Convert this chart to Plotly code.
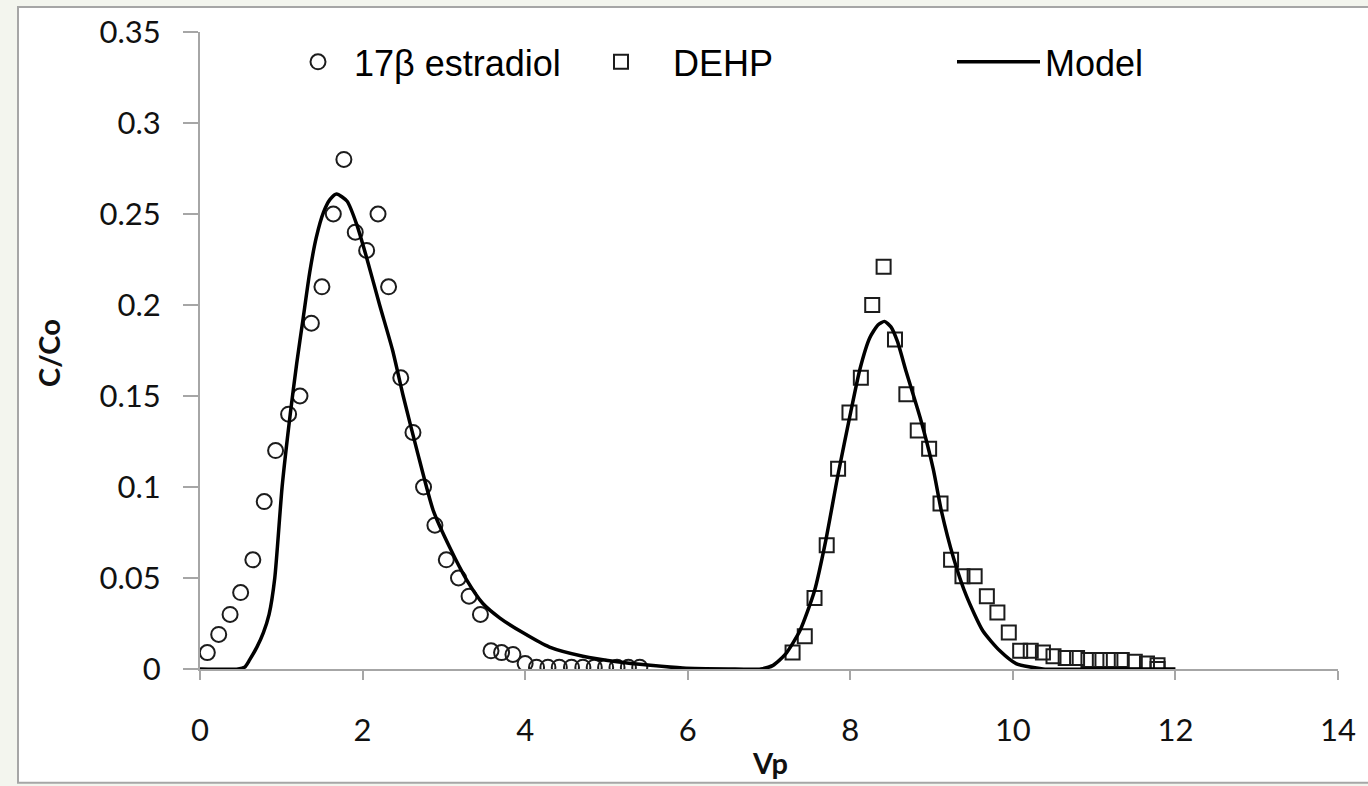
import plotly.graph_objects as go

# ---- data ----
estradiol_x = [0.09, 0.23, 0.37, 0.50, 0.65, 0.79, 0.93, 1.09, 1.23, 1.37, 1.50, 1.64, 1.77,
               1.91, 2.05, 2.19, 2.32, 2.47, 2.62, 2.75, 2.89, 3.03, 3.18, 3.31, 3.45, 3.58,
               3.71, 3.85, 4.00, 4.14, 4.28, 4.42, 4.57, 4.71, 4.85, 4.99, 5.13, 5.27, 5.41]
estradiol_y = [0.009, 0.019, 0.030, 0.042, 0.060, 0.092, 0.120, 0.140, 0.150, 0.190, 0.210,
               0.250, 0.280, 0.240, 0.230, 0.250, 0.210, 0.160, 0.130, 0.100, 0.079, 0.060,
               0.050, 0.040, 0.030, 0.010, 0.009, 0.008, 0.003, 0.001, 0.001, 0.001, 0.001,
               0.001, 0.001, 0.001, 0.001, 0.001, 0.001]

dehp_x = [7.29, 7.44, 7.56, 7.71, 7.85, 7.99, 8.13, 8.27, 8.41, 8.55, 8.69, 8.83, 8.97, 9.11,
          9.24, 9.38, 9.53, 9.68, 9.81, 9.95, 10.09, 10.22, 10.37, 10.50, 10.65, 10.79, 10.93,
          11.07, 11.20, 11.34, 11.50, 11.65, 11.78, 11.78]
dehp_y = [0.009, 0.018, 0.039, 0.068, 0.110, 0.141, 0.160, 0.200, 0.221, 0.181, 0.151, 0.131,
          0.121, 0.091, 0.060, 0.051, 0.051, 0.040, 0.031, 0.020, 0.010, 0.010, 0.009, 0.007,
          0.006, 0.006, 0.005, 0.005, 0.005, 0.005, 0.004, 0.003, 0.002, 0.0]

model_x = [0, 0.47, 0.55, 0.61, 0.70, 0.78, 0.85, 0.92, 1.01, 1.11, 1.19, 1.27, 1.35,
           1.43, 1.52, 1.60, 1.68, 1.81, 1.93, 2.05, 2.21, 2.37, 2.50, 2.67, 2.87, 3.07, 3.28,
           3.48, 3.69, 3.97, 4.30, 4.71, 5.13, 5.54, 5.94, 6.50, 6.90, 7.05, 7.20, 7.38, 7.56,
           7.70, 7.85, 8.00, 8.12, 8.24, 8.34, 8.42, 8.50, 8.58, 8.69, 8.86, 9.02, 9.12, 9.27,
           9.43, 9.63, 9.84, 10.04, 10.37, 11.0, 12.0]
model_y = [0, 0, 0.001, 0.005, 0.012, 0.020, 0.030, 0.050, 0.100, 0.140, 0.168, 0.193,
           0.218, 0.237, 0.251, 0.258, 0.261, 0.257, 0.244, 0.226, 0.200, 0.175, 0.150, 0.120,
           0.087, 0.067, 0.049, 0.036, 0.028, 0.020, 0.012, 0.007, 0.004, 0.002, 0.0005, 0, 0,
           0.002, 0.008, 0.021, 0.043, 0.071, 0.107, 0.140, 0.165, 0.182, 0.189, 0.191, 0.188,
           0.180, 0.163, 0.138, 0.110, 0.087, 0.061, 0.040, 0.021, 0.010, 0.003, 0.0, 0, 0]

x_ticks = [0, 2, 4, 6, 8, 10, 12, 14]
y_ticks = [0, 0.05, 0.1, 0.15, 0.2, 0.25, 0.3, 0.35]
y_ticktext = ["0", "0.05", "0.1", "0.15", "0.2", "0.25", "0.3", "0.35"]

W, H = 1368, 786
ML, MR, MT, MB = 200, 30, 30, 117
PW, PH = W - ML - MR, H - MT - MB

def px(xp):
    return (xp - ML) / PW

def py(yp):
    return (H - MB - yp) / PH

fig = go.Figure()
fig.add_trace(go.Scatter(
    x=estradiol_x, y=estradiol_y, mode="markers", name="17β estradiol", legend="legend",
    marker=dict(symbol="circle-open", size=15, color="#1c1c1c", line=dict(width=2))))
fig.add_trace(go.Scatter(
    x=dehp_x, y=dehp_y, mode="markers", name="DEHP", legend="legend2",
    marker=dict(symbol="square-open", size=14, color="#1c1c1c", line=dict(width=2))))
fig.add_trace(go.Scatter(
    x=model_x, y=model_y, mode="lines", name="Model", legend="legend3",
    line=dict(color="#000000", width=3.5, shape="spline", smoothing=0.6)))

tick_font = dict(family="Lato, Open Sans, sans-serif", size=31, color="#111111")
leg_font = dict(family="Liberation Sans, Arial, sans-serif", size=36, color="#000")

def leg(left, iw):
    return dict(orientation="h", x=px(left), xanchor="left", y=py(60), yanchor="middle",
                font=leg_font, bgcolor="rgba(0,0,0,0)", itemwidth=iw)

fig.update_layout(
    width=W, height=H,
    margin=dict(l=ML, r=MR, t=MT, b=MB, pad=0),
    paper_bgcolor="#f3f5ee",
    plot_bgcolor="white",
    showlegend=True,
    legend=leg(282, 62),
    legend2=leg(569, 94),
    legend3=leg(952, 83),
    xaxis=dict(range=[0, 14], tickvals=x_ticks, ticks="outside", ticklen=9, tickwidth=2,
               tickcolor="#a6a6a6", showline=True, linecolor="#a6a6a6", linewidth=2,
               showgrid=False, zeroline=False, tickfont=tick_font, ticklabelstandoff=24,
               fixedrange=True),
    yaxis=dict(range=[0, 0.35], tickvals=y_ticks, ticktext=y_ticktext, ticks="outside",
               ticklen=15, tickwidth=2, tickcolor="#a6a6a6", showline=True,
               linecolor="#a6a6a6", linewidth=2, showgrid=False, zeroline=False,
               tickfont=tick_font, ticklabelstandoff=16, fixedrange=True),
    shapes=[dict(type="rect", xref="paper", yref="paper",
                 x0=px(18), x1=px(1372), y0=py(783), y1=py(5),
                 fillcolor="white", line=dict(color="#a6a6a6", width=2), layer="below")],
    annotations=[
        dict(text="<b>C/Co</b>", xref="paper", yref="paper", x=px(49), y=py(352),
             textangle=-90, showarrow=False, xanchor="center", yanchor="middle",
             font=dict(family="Lato, Open Sans, sans-serif", size=29, color="#111")),
        dict(text="<b>Vp</b>", xref="paper", yref="paper", x=px(770), y=py(763),
             showarrow=False, xanchor="center", yanchor="middle",
             font=dict(family="Lato, Open Sans, sans-serif", size=29, color="#111")),
    ],
)

fig.write_html("out.html", config={"displayModeBar": False},
               post_script="document.body.style.margin='0';")
